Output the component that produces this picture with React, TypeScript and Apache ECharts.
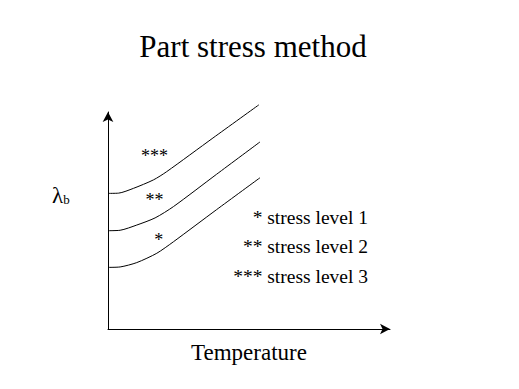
import React, { useEffect, useRef } from "react";
import * as echarts from "echarts";

const titleText = "Part stress method";
const xAxisName = "Temperature";
const seriesNames = ["stress level 1", "stress level 2", "stress level 3"];
const starMarks = ["*", "**", "***"];

// [temperature, lambda_b] in arbitrary units (0..100)
const level1: number[][] = [[0, 28.4], [4.3, 28.6], [10.2, 30.6], [17.3, 34.9], [23.2, 40.2], [38.5, 55], [53.9, 69.7]];
const level2: number[][] = [[0, 45.3], [4.3, 45.5], [10.2, 47.9], [16.7, 51.2], [23.2, 56.4], [38.5, 71.3], [53.9, 86.2]];
const level3: number[][] = [[0, 62.5], [3.7, 62.6], [9, 64.8], [16.1, 68.7], [20.8, 72.5], [37.2, 88], [53.5, 103.3]];

// star annotation anchors in data units
const starPos: number[][] = [[18, 41], [16.5, 59.5], [16.5, 79.5]];

const SERIF = "'Liberation Serif', 'Times New Roman', serif";

export default function App() {
  const ref = useRef<HTMLDivElement>(null);
  useEffect(() => {
    document.body.style.margin = "0";
    if (!ref.current) return;
    const chart = echarts.init(ref.current, undefined, { renderer: "svg" });
    const lines = [level1, level2, level3].map((d, i) => ({
      type: "line",
      name: seriesNames[i],
      data: d,
      smooth: 0.25,
      symbol: "none",
      clip: false,
      lineStyle: { color: "#000", width: 1 },
    }));
    chart.setOption({
      animation: false,
      backgroundColor: "#fff",
      grid: { left: 108, right: 129, top: 112, bottom: 60 },
      xAxis: {
        type: "value",
        min: 0,
        max: 100,
        name: xAxisName,
        nameLocation: "middle",
        nameGap: 12,
        nameTextStyle: { fontFamily: SERIF, fontSize: 23, color: "#000" },
        axisLine: { lineStyle: { color: "#000", width: 1 }, symbol: ["none", "arrow"], symbolSize: [8, 10] },
        axisTick: { show: false },
        axisLabel: { show: false },
        splitLine: { show: false },
      },
      yAxis: {
        type: "value",
        min: 0,
        max: 100,
        axisLine: { show: true, lineStyle: { color: "#000", width: 1 }, symbol: ["none", "arrow"], symbolSize: [8, 10] },
        axisTick: { show: false },
        axisLabel: { show: false },
        splitLine: { show: false },
      },
      series: [
        ...lines,
        {
          type: "scatter",
          symbol: "circle",
          symbolSize: 1,
          itemStyle: { color: "#fff" },
          silent: true,
          data: starPos.map((p, i) => ({
            value: p,
            label: {
              show: true,
              formatter: starMarks[i],
              position: "inside",
              fontFamily: SERIF,
              fontSize: 18,
              color: "#000",
              opacity: 1,
              textBorderWidth: 0,
            },
          })),
        },
      ],
      graphic: [
        {
          type: "text",
          x: 253,
          y: 46,
          style: { text: titleText, font: `31px ${SERIF}`, fill: "#000", align: "center", verticalAlign: "middle" },
        },
        {
          type: "text",
          x: 52,
          y: 195,
          style: {
            text: "{l|λ}{s|b}",
            verticalAlign: "middle",
            rich: {
              l: { fontFamily: SERIF, fontSize: 23, fill: "#000" },
              s: { fontFamily: SERIF, fontSize: 13, fill: "#000", padding: [9, 0, 0, 0] },
            },
          },
        },
        ...seriesNames.map((n, i) => ({
          type: "text",
          x: 368,
          y: 217 + i * 29.5,
          style: {
            text: `${starMarks[i]} ${n}`,
            font: `19.5px ${SERIF}`,
            fill: "#000",
            align: "right",
            verticalAlign: "middle",
          },
        })),
      ],
    });
    return () => chart.dispose();
  }, []);
  return <div ref={ref} style={{ width: 519, height: 389 }} />;
}
